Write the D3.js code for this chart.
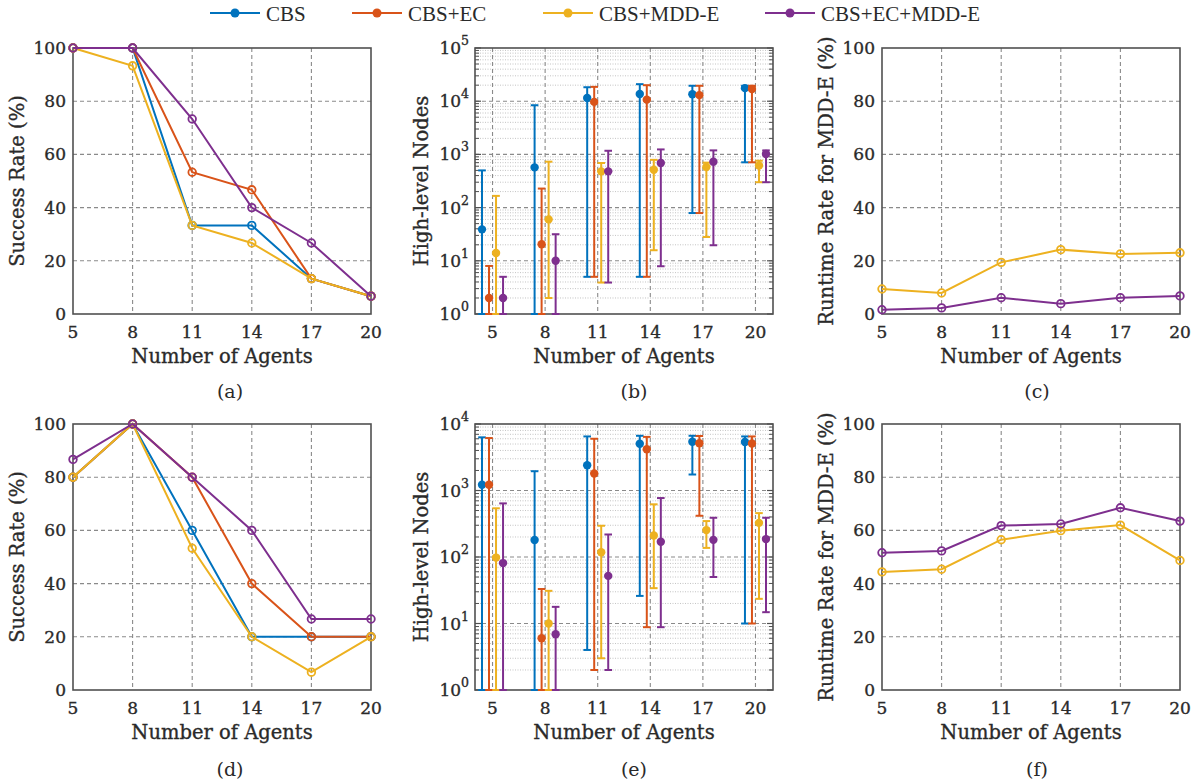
<!DOCTYPE html>
<html><head><meta charset="utf-8">
<script src="https://cdn.jsdelivr.net/npm/d3@7"></script>
<style>
html,body{margin:0;padding:0;background:#fff;}
svg{display:block;}
text.t{stroke:#2a2a2a;stroke-width:0.35px;}
</style></head>
<body>
<svg id="chart" width="1199" height="783"></svg>
<script>
// ---------------- DATA ----------------
const agents = [5, 8, 11, 14, 17, 20];
const seriesNames = ["CBS", "CBS+EC", "CBS+MDD-E", "CBS+EC+MDD-E"];
const seriesColors = ["#0072BD", "#D95319", "#EDB120", "#7E2F8E"];

// (a) success rate, top row
const successA = [
  [100, 100, 33.3, 33.3, 13.3, 6.7],
  [100, 100, 53.3, 46.7, 13.3, 6.7],
  [100, 93.3, 33.3, 26.7, 13.3, 6.7],
  [100, 100, 73.3, 40, 26.7, 6.7]
];
// (d) success rate, bottom row
const successD = [
  [80, 100, 60, 20, 20, 20],
  [80, 100, 80, 40, 20, 20],
  [80, 100, 53.3, 20, 6.7, 20],
  [86.7, 100, 80, 60, 26.7, 26.7]
];
// (b) high-level nodes: mean, lower, upper
const nodesBMean = [
  [39, 570, 11500, 13700, 13500, 17600],
  [2, 20.5, 9700, 10700, 13000, 17000],
  [14, 60, 480, 515, 580, 620],
  [2, 10, 480, 690, 730, 1020]
];
const nodesBLow = [
  [1, 1, 5, 5, 79, 710],
  [1, 1, 5, 5, 79, 710],
  [1, 2, 3.9, 15.8, 28, 300],
  [1, 1, 3.9, 7.9, 19.6, 300]
];
const nodesBHigh = [
  [500, 8400, 18300, 20900, 19500, 19500],
  [8, 228, 18600, 20000, 19500, 19500],
  [166, 730, 690, 790, 700, 760],
  [5, 31.6, 1170, 1240, 1190, 1190]
];
// (e) high-level nodes: mean, lower, upper
const nodesEMean = [
  [1220, 180, 2400, 5050, 5400, 5350],
  [1220, 6, 1800, 4170, 5150, 5100],
  [98, 10, 118, 210, 254, 326],
  [81, 6.9, 52, 170, 181, 186]
];
const nodesELow = [
  [1, 1, 4, 26, 1740, 10],
  [1, 1, 2, 8.8, 417, 10],
  [1, 1, 3, 34, 137, 23.5],
  [1, 1, 2, 8.8, 50, 14.8]
];
const nodesEHigh = [
  [6300, 1950, 6500, 6650, 6650, 6500],
  [6150, 33, 6000, 6400, 6600, 6500],
  [540, 31, 295, 620, 347, 457],
  [640, 17.8, 218, 770, 389, 389]
];
// (c) / (f) runtime rate for MDD-E (series index 2 and 3)
const runtimeSeries = [2, 3];
const runtimeC = [
  [9.4, 7.9, 19.4, 24.2, 22.6, 23.0],
  [1.6, 2.3, 6.1, 3.9, 6.1, 6.8]
];
const runtimeF = [
  [44.4, 45.4, 56.5, 59.9, 62.0, 48.7],
  [51.6, 52.3, 61.8, 62.4, 68.5, 63.5]
];
const linearTicks = [0, 20, 40, 60, 80, 100];
const logTicksB = [1, 10, 100, 1000, 10000, 100000];
const logTicksE = [1, 10, 100, 1000, 10000];
const captions = ["(a)", "(b)", "(c)", "(d)", "(e)", "(f)"];

// ---------------- LAYOUT ----------------
const svg = d3.select("#chart");
const colLeft = [73, 475, 882];
const rowTop = [48, 424];
const PW = 298, PH = 266;
const captionX = [230, 634, 1037];
const ylabelX = [17, 421, 826];
const tickFont = "'DejaVu Serif', serif";
const textColor = "#2a2a2a";
const axisColor = "#505050";
const gridColor = "#8a8a8a";

function frame(g) {
  g.append("rect").attr("x", 0).attr("y", 0).attr("width", PW).attr("height", PH)
    .attr("fill", "none").attr("stroke", axisColor).attr("stroke-width", 1.6);
}
function xLabels(g, x) {
  g.selectAll("text.xt").data(agents).join("text").attr("class", "xt t")
    .attr("x", d => x(d)).attr("y", PH + 24).attr("text-anchor", "middle")
    .attr("font-family", tickFont).attr("font-size", 17).attr("fill", textColor)
    .text(d => d);
  g.append("text").attr("class", "t").attr("x", PW / 2).attr("y", PH + 49).attr("text-anchor", "middle")
    .attr("font-family", tickFont).attr("font-size", 19.5).attr("fill", textColor)
    .text("Number of Agents");
}
function yLabel(col, row, txt) {
  const cy = rowTop[row] + PH / 2;
  svg.append("text").attr("class", "t").attr("transform", `translate(${ylabelX[col] + 7},${cy}) rotate(-90)`)
    .attr("text-anchor", "middle").attr("font-family", tickFont).attr("font-size", 19.5)
    .attr("fill", textColor).text(txt);
}
function caption(col, row, i) {
  svg.append("text").attr("x", captionX[col]).attr("y", row === 0 ? 398 : 776)
    .attr("text-anchor", "middle").attr("font-family", tickFont).attr("font-size", 19)
    .attr("fill", textColor).text(captions[i]);
}

function linePanel(col, row, data, seriesIdx, ylab, capIdx) {
  const g = svg.append("g").attr("transform", `translate(${colLeft[col]},${rowTop[row]})`);
  const x = d3.scaleLinear().domain([5, 20]).range([0, PW]);
  const y = d3.scaleLinear().domain([0, 100]).range([PH, 0]);
  g.selectAll("line.hg").data(linearTicks.slice(1, -1)).join("line").attr("class", "hg")
    .attr("x1", 0).attr("x2", PW).attr("y1", d => y(d)).attr("y2", d => y(d))
    .attr("stroke", gridColor).attr("stroke-width", 1.1).attr("stroke-dasharray", "4,3");
  g.selectAll("line.vg").data(agents.slice(1, -1)).join("line").attr("class", "vg")
    .attr("y1", 0).attr("y2", PH).attr("x1", d => x(d)).attr("x2", d => x(d))
    .attr("stroke", gridColor).attr("stroke-width", 1.1).attr("stroke-dasharray", "4,3");
  frame(g);
  g.selectAll("text.yt").data(linearTicks).join("text").attr("class", "yt t")
    .attr("x", -7).attr("y", d => y(d) + 6).attr("text-anchor", "end")
    .attr("font-family", tickFont).attr("font-size", 17).attr("fill", textColor).text(d => d);
  xLabels(g, x);
  const line = d3.line().x((d, i) => x(agents[i])).y(d => y(d));
  data.forEach((vals, k) => {
    const c = seriesColors[seriesIdx[k]];
    g.append("path").attr("d", line(vals)).attr("fill", "none").attr("stroke", c).attr("stroke-width", 2);
    g.selectAll(null).data(vals).join("circle")
      .attr("cx", (d, i) => x(agents[i])).attr("cy", d => y(d)).attr("r", 3.8)
      .attr("fill", "none").attr("stroke", c).attr("stroke-width", 1.8);
  });
  yLabel(col, row, ylab);
  caption(col, row, capIdx);
}

function errPanel(col, row, mean, low, high, ticks, capIdx) {
  const g = svg.append("g").attr("transform", `translate(${colLeft[col]},${rowTop[row]})`);
  const x = d3.scaleLinear().domain([4, 21]).range([0, PW]);
  const y = d3.scaleLog().domain([ticks[0], ticks[ticks.length - 1]]).range([PH, 0]);
  const offsets = [-0.6, -0.2, 0.2, 0.6];
  const minor = [];
  for (let t = 0; t < ticks.length - 1; t++)
    for (let m = 2; m <= 9; m++) minor.push(ticks[t] * m);
  g.selectAll("line.mg").data(minor).join("line").attr("class", "mg")
    .attr("x1", 0).attr("x2", PW).attr("y1", d => y(d)).attr("y2", d => y(d))
    .attr("stroke", "#bdbdbd").attr("stroke-width", 0.9).attr("stroke-dasharray", "1,1.5");
  g.selectAll("line.hg").data(ticks.slice(1, -1)).join("line").attr("class", "hg")
    .attr("x1", 0).attr("x2", PW).attr("y1", d => y(d)).attr("y2", d => y(d))
    .attr("stroke", gridColor).attr("stroke-width", 1.1).attr("stroke-dasharray", "4,3");
  g.selectAll("line.vg").data(agents).join("line").attr("class", "vg")
    .attr("y1", 0).attr("y2", PH).attr("x1", d => x(d)).attr("x2", d => x(d))
    .attr("stroke", gridColor).attr("stroke-width", 1.1).attr("stroke-dasharray", "4,3");
  [0, PW].forEach(ex => {
    const dir = ex === 0 ? 1 : -1;
    g.selectAll(null).data(minor).join("line")
      .attr("x1", ex).attr("x2", ex + dir * 4).attr("y1", d => y(d)).attr("y2", d => y(d))
      .attr("stroke", axisColor).attr("stroke-width", 1);
    g.selectAll(null).data(ticks).join("line")
      .attr("x1", ex).attr("x2", ex + dir * 6).attr("y1", d => y(d)).attr("y2", d => y(d))
      .attr("stroke", axisColor).attr("stroke-width", 1.2);
  });
  frame(g);
  const yt = g.selectAll("text.yt").data(ticks).join("text").attr("class", "yt t")
    .attr("x", -6).attr("y", d => y(d) + 6).attr("text-anchor", "end")
    .attr("font-family", tickFont).attr("font-size", 17).attr("fill", textColor);
  yt.append("tspan").text("10");
  yt.append("tspan").attr("dy", -9).attr("font-size", 12.5).text(d => Math.round(Math.log10(d)));
  xLabels(g, x);
  mean.forEach((vals, k) => {
    const c = seriesColors[k];
    const gg = g.append("g");
    vals.forEach((v, i) => {
      const cx = x(agents[i] + offsets[k]);
      const y0 = y(low[k][i]), y1 = y(high[k][i]);
      gg.append("line").attr("x1", cx).attr("x2", cx).attr("y1", y0).attr("y2", y1)
        .attr("stroke", c).attr("stroke-width", 2);
      [y0, y1].forEach(yy => gg.append("line").attr("x1", cx - 3.8).attr("x2", cx + 3.8)
        .attr("y1", yy).attr("y2", yy).attr("stroke", c).attr("stroke-width", 2));
      gg.append("circle").attr("cx", cx).attr("cy", y(v)).attr("r", 4.2).attr("fill", c);
    });
  });
  yLabel(col, row, "High-level Nodes");
  caption(col, row, capIdx);
}

linePanel(0, 0, successA, [0, 1, 2, 3], "Success Rate (%)", 0);
errPanel(1, 0, nodesBMean, nodesBLow, nodesBHigh, logTicksB, 1);
linePanel(2, 0, runtimeC, runtimeSeries, "Runtime Rate for MDD-E (%)", 2);
linePanel(0, 1, successD, [0, 1, 2, 3], "Success Rate (%)", 3);
errPanel(1, 1, nodesEMean, nodesELow, nodesEHigh, logTicksE, 4);
linePanel(2, 1, runtimeF, runtimeSeries, "Runtime Rate for MDD-E (%)", 5);

// legend
const legendX = [210, 352, 543, 765];
const lg = svg.append("g");
seriesNames.forEach((name, k) => {
  const x0 = legendX[k];
  lg.append("line").attr("x1", x0).attr("x2", x0 + 50).attr("y1", 13).attr("y2", 13)
    .attr("stroke", seriesColors[k]).attr("stroke-width", 2);
  lg.append("circle").attr("cx", x0 + 25).attr("cy", 13).attr("r", 4.5).attr("fill", seriesColors[k]);
  lg.append("text").attr("x", x0 + 56).attr("y", 21).attr("font-family", "'Liberation Serif', serif")
    .attr("font-size", 21).attr("fill", textColor).text(name);
});
</script>
</body></html>
